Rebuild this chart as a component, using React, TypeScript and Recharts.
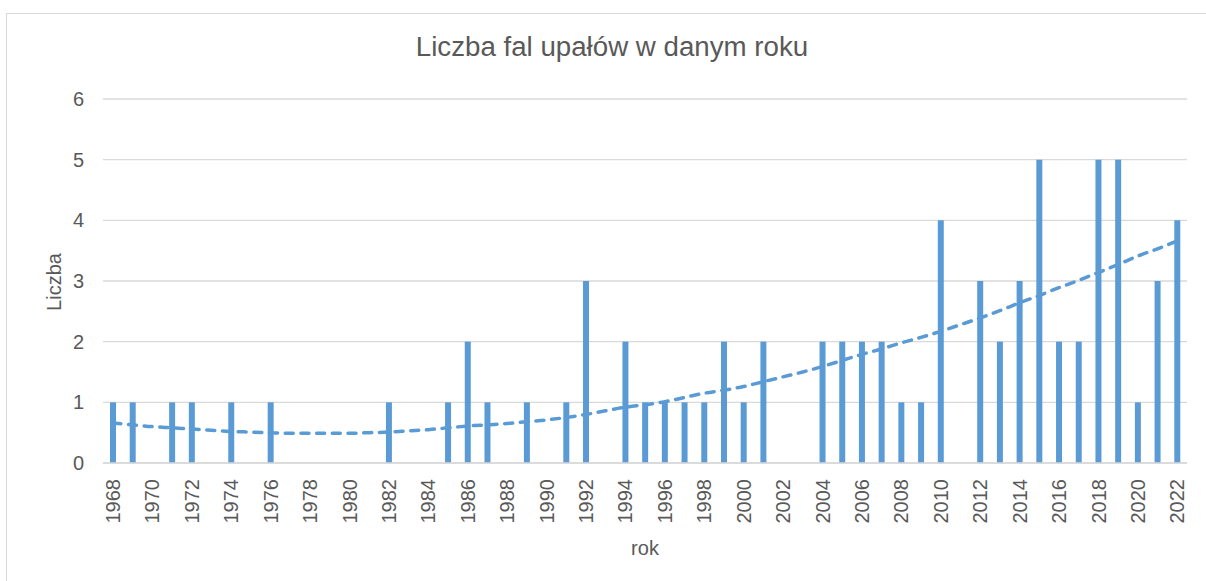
import React from "react";
import { ComposedChart, Bar, Line, XAxis, YAxis, CartesianGrid } from "recharts";

const years: number[] = [
  1968, 1969, 1970, 1971, 1972, 1973, 1974, 1975, 1976, 1977, 1978, 1979, 1980, 1981,
  1982, 1983, 1984, 1985, 1986, 1987, 1988, 1989, 1990, 1991, 1992, 1993, 1994, 1995,
  1996, 1997, 1998, 1999, 2000, 2001, 2002, 2003, 2004, 2005, 2006, 2007, 2008, 2009,
  2010, 2011, 2012, 2013, 2014, 2015, 2016, 2017, 2018, 2019, 2020, 2021, 2022,
];

const counts: number[] = [
  1, 1, 0, 1, 1, 0, 1, 0, 1, 0, 0, 0, 0, 0,
  1, 0, 0, 1, 2, 1, 0, 1, 0, 1, 3, 0, 2, 1,
  1, 1, 1, 2, 1, 2, 0, 0, 2, 2, 2, 2, 1, 1,
  4, 0, 3, 2, 3, 5, 2, 2, 5, 5, 1, 3, 4,
];

// trend line values
const trend: number[] = [
  0.66, 0.63, 0.6, 0.58, 0.56, 0.54, 0.52, 0.51, 0.5, 0.49, 0.49, 0.49, 0.49, 0.5,
  0.51, 0.53, 0.55, 0.58, 0.61, 0.63, 0.65, 0.68, 0.71, 0.75, 0.8, 0.86, 0.92, 0.96,
  1.01, 1.08, 1.15, 1.2, 1.26, 1.34, 1.42, 1.5, 1.59, 1.69, 1.79, 1.88, 1.98, 2.07,
  2.17, 2.28, 2.39, 2.51, 2.64, 2.76, 2.89, 3.01, 3.14, 3.27, 3.41, 3.53, 3.66,
];

const yTicks: number[] = [0, 1, 2, 3, 4, 5, 6];

const title = "Liczba fal upałów w danym roku";
const xTitle = "rok";
const yTitle = "Liczba";

const data = years.map((y, i) => ({ year: String(y), count: counts[i], trend: trend[i] }));

const FONT = '"Liberation Sans", Arial, sans-serif';
const TEXT = "#595959";
const BLUE = "#5b9bd5";

const XTick = (props: any) => {
  const { x, y, payload } = props;
  const yr = Number(payload.value);
  if (yr % 2 !== 0) return null;
  return (
    <g transform={`translate(${x},${y})`}>
      <text
        transform="rotate(-90)"
        textAnchor="end"
        dy="0.36em"
        fill={TEXT}
        fontSize={20}
        fontFamily={FONT}
      >
        {payload.value}
      </text>
    </g>
  );
};

export default function App() {
  return (
    <div style={{ position: "absolute", left: 0, top: 0, width: 1206, height: 581, overflow: "hidden", background: "#fff" }}>
      <div
        style={{
          position: "absolute",
          left: 6,
          top: 13,
          width: 1220,
          height: 620,
          border: "1.5px solid #d9d9d9",
          boxSizing: "border-box",
        }}
      />
      <div
        style={{
          position: "absolute",
          left: 0,
          width: 1206,
          top: 31,
          textAlign: "center",
          fontFamily: FONT,
          fontSize: 27.7,
          color: TEXT,
          lineHeight: "32px",
          paddingLeft: 18,
          boxSizing: "border-box",
        }}
      >
        {title}
      </div>
      <div style={{ position: "absolute", left: 0, top: 0 }}>
        <ComposedChart
          width={1206}
          height={581}
          data={data}
          margin={{ top: 99, right: 19, bottom: 58, left: 43 }}
          barCategoryGap={0}
        >
          <CartesianGrid horizontal vertical={false} stroke="#d9d9d9" strokeWidth={1.3} />
          <XAxis
            dataKey="year"
            interval={0}
            height={60}
            axisLine={{ stroke: "#d9d9d9", strokeWidth: 1.3 }}
            tickLine={false}
            tickSize={0}
            tickMargin={16}
            tick={<XTick />}
          />
          <YAxis
            domain={[0, 6]}
            ticks={yTicks}
            width={60}
            axisLine={false}
            tickLine={false}
            tickSize={0}
            tickMargin={19}
            tick={{ fill: TEXT, fontSize: 20, fontFamily: FONT }}
          />
          <Bar dataKey="count" fill={BLUE} barSize={6} isAnimationActive={false} />
          <Line
            dataKey="trend"
            type="monotone"
            stroke={BLUE}
            strokeWidth={3.5}
            strokeDasharray="8 7.7"
            strokeLinecap="round"
            dot={false}
            activeDot={false}
            isAnimationActive={false}
          />
        </ComposedChart>
      </div>
      <div
        style={{
          position: "absolute",
          left: 645,
          top: 537,
          transform: "translateX(-50%)",
          fontFamily: FONT,
          fontSize: 20,
          color: TEXT,
          lineHeight: "22px",
        }}
      >
        {xTitle}
      </div>
      <div
        style={{
          position: "absolute",
          left: 54,
          top: 282,
          transform: "translate(-50%, -50%) rotate(-90deg)",
          fontFamily: FONT,
          fontSize: 20,
          color: TEXT,
          lineHeight: "22px",
          whiteSpace: "nowrap",
        }}
      >
        {yTitle}
      </div>
    </div>
  );
}
